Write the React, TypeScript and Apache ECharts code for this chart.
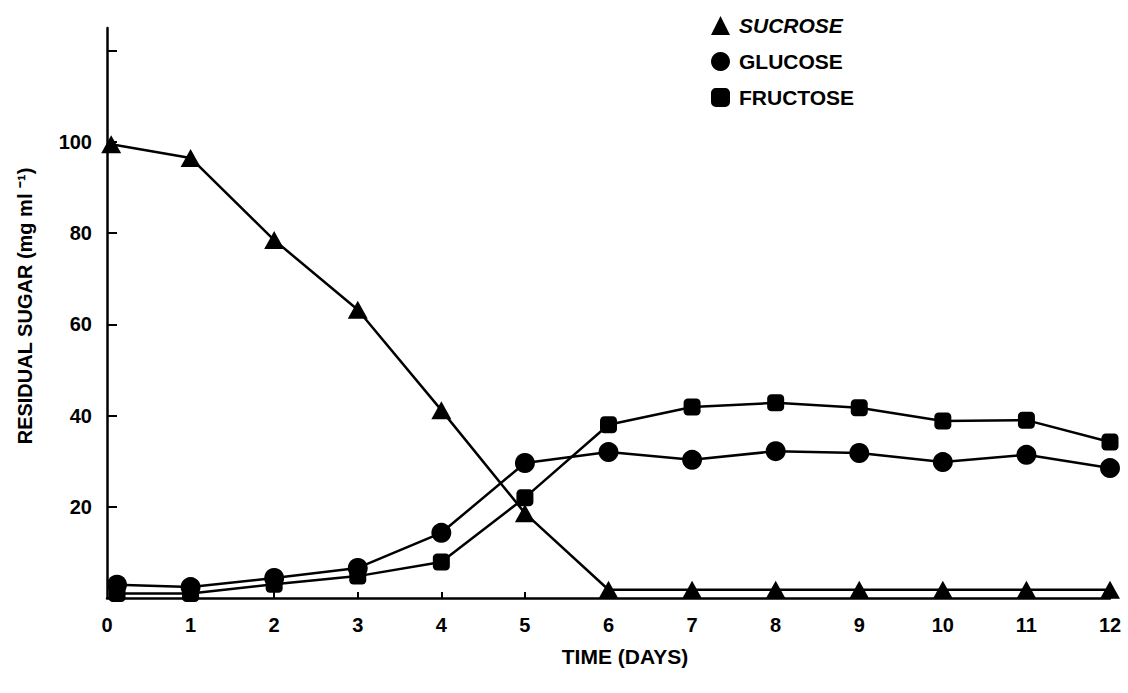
import React, { useEffect, useRef } from "react";
import * as echarts from "echarts";

const days = [0, 1, 2, 3, 4, 5, 6, 7, 8, 9, 10, 11, 12];
const sucroseDays = [0.05, 1, 2, 3, 4, 5, 6, 7, 8, 9, 10, 11, 12];
const hexoseDays = [0.12, 1, 2, 3, 4, 5, 6, 7, 8, 9, 10, 11, 12];
const sucrose = [99.5, 96.5, 78.5, 63.2, 41.2, 18.6, 1.8, 1.8, 1.8, 1.8, 1.8, 1.8, 1.8];
const glucose = [2.9, 2.4, 4.4, 6.6, 14.3, 29.6, 32.0, 30.3, 32.2, 31.8, 29.8, 31.4, 28.5];
const fructose = [1.0, 1.0, 3.0, 4.8, 7.9, 22.0, 38.0, 41.9, 42.8, 41.7, 38.8, 39.0, 34.2];
const yTickValues = [20, 40, 60, 80, 100, 120];
const yLabelValues = [20, 40, 60, 80, 100];
const xTickValues = [1, 2, 3, 4, 5, 6, 7, 8, 9, 10, 11, 12];
const seriesNames = ["SUCROSE", "GLUCOSE", "FRUCTOSE"];

const FONT = "'Liberation Sans', Arial, Helvetica, sans-serif";

export default function App() {
  const ref = useRef<HTMLDivElement>(null);
  useEffect(() => {
    if (!ref.current) return;
    const chart = echarts.init(ref.current, undefined, { renderer: "svg" });
    const pair = (xs: number[], ys: number[]) => ys.map((v, i) => [xs[i], v]);
    const lineStyle = { color: "#000", width: 2.5 };
    chart.setOption({
      animation: false,
      backgroundColor: "#fff",
      grid: { left: 107, right: 18, top: 28, bottom: 95, containLabel: false },
      xAxis: {
        type: "value",
        min: 0,
        max: 12,
        interval: 1,
        axisLine: { show: true, lineStyle: { color: "#000", width: 2.5 } },
        axisTick: {
          show: true,
          inside: true,
          length: 6,
          customValues: xTickValues,
          lineStyle: { color: "#000", width: 2 },
        },
        axisLabel: {
          show: true,
          margin: 17,
          color: "#000",
          fontFamily: FONT,
          fontWeight: "bold",
          fontSize: 20,
          customValues: days,
        },
        splitLine: { show: false },
      },
      yAxis: {
        type: "value",
        min: 0,
        max: 125,
        interval: 20,
        axisLine: { show: true, lineStyle: { color: "#000", width: 2.5 } },
        axisTick: {
          show: true,
          inside: true,
          length: 10,
          customValues: yTickValues,
          lineStyle: { color: "#000", width: 2 },
        },
        axisLabel: {
          show: true,
          margin: 15,
          color: "#000",
          fontFamily: FONT,
          fontWeight: "bold",
          fontSize: 20,
          customValues: yLabelValues,
        },
        splitLine: { show: false },
      },
      legend: {
        orient: "vertical",
        left: 706,
        top: 10,
        itemWidth: 19,
        itemHeight: 19,
        itemGap: 15,
        textStyle: {
          color: "#000",
          fontFamily: FONT,
          fontWeight: "bold",
          fontSize: 21,
          padding: [0, 0, 0, 4],
        },
        data: [
          { name: seriesNames[0], icon: "triangle", textStyle: { fontStyle: "italic" } },
          { name: seriesNames[1], icon: "circle" },
          { name: seriesNames[2], icon: "roundRect" },
        ],
      },
      graphic: [
        {
          type: "text",
          x: 625,
          y: 656,
          style: {
            text: "TIME (DAYS)",
            fill: "#000",
            font: `bold 21px ${FONT}`,
            align: "center",
            verticalAlign: "middle",
          },
        },
        {
          type: "text",
          x: 25,
          y: 306,
          rotation: Math.PI / 2,
          style: {
            text: "RESIDUAL SUGAR (mg ml \u207B\u00B9)",
            fill: "#000",
            font: `bold 20px ${FONT}`,
            align: "center",
            verticalAlign: "middle",
          },
        },
      ],
      series: [
        {
          name: seriesNames[0],
          type: "line",
          data: pair(sucroseDays, sucrose),
          symbol: "triangle",
          symbolSize: [20, 18],
          clip: false,
          itemStyle: { color: "#000" },
          lineStyle,
          z: 3,
        },
        {
          name: seriesNames[1],
          type: "line",
          data: pair(hexoseDays, glucose),
          symbol: "circle",
          symbolSize: 20,
          clip: false,
          itemStyle: { color: "#000" },
          lineStyle,
          z: 2,
        },
        {
          name: seriesNames[2],
          type: "line",
          data: pair(hexoseDays, fructose),
          symbol: "roundRect",
          symbolSize: 17,
          clip: false,
          itemStyle: { color: "#000" },
          lineStyle,
          z: 2,
        },
      ],
    });
    return () => chart.dispose();
  }, []);
  return (
    <div
      ref={ref}
      style={{ position: "fixed", left: 0, top: 0, width: 1128, height: 693, background: "#fff" }}
    />
  );
}
